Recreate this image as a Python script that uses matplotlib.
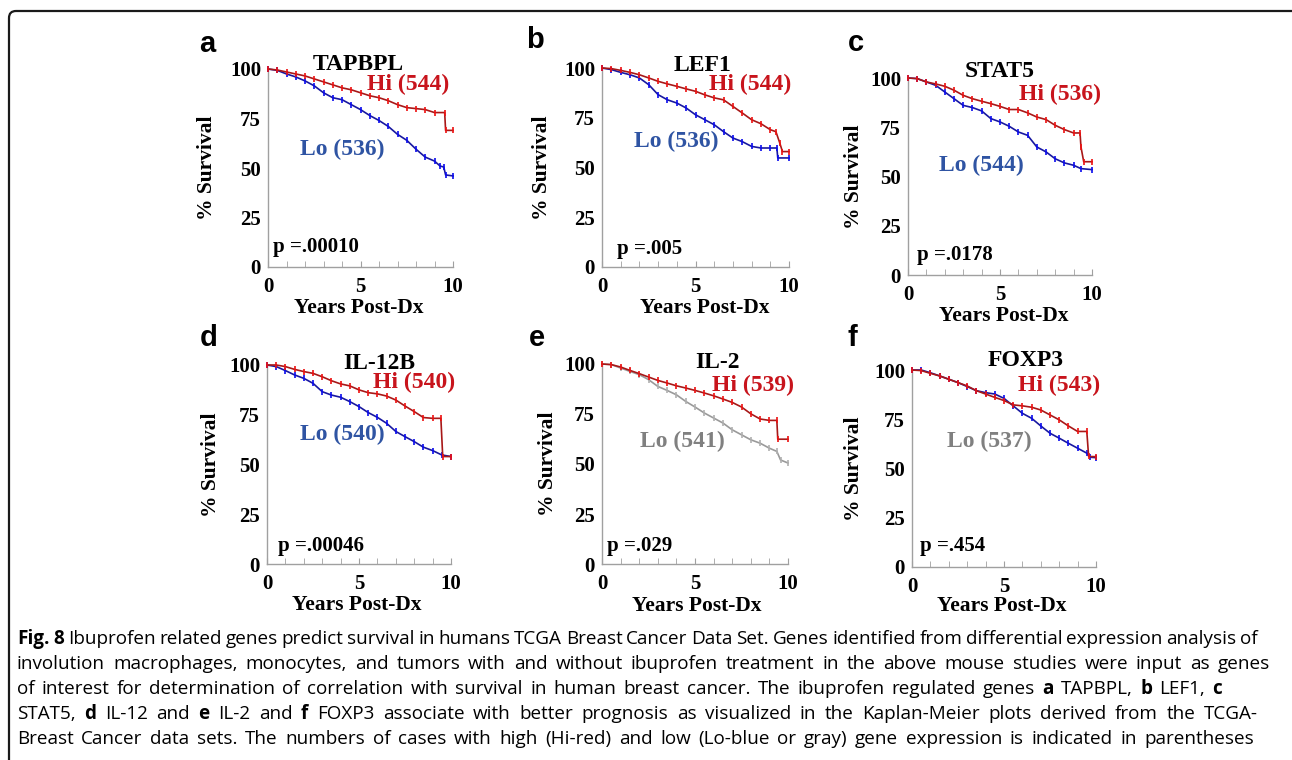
import matplotlib
matplotlib.use("Agg")
import matplotlib.pyplot as plt
from matplotlib.patches import FancyBboxPatch

# ---- survival data (years, % survival) ----
a_hi_t = [0, 0.5, 1.0, 1.5, 2.0, 2.5, 3.0, 3.5, 4.0, 4.5, 5.0, 5.5, 6.0, 6.5, 7.0, 7.5, 8.0, 8.5, 9.0, 9.55, 9.6, 10]
a_hi_s = [100, 99.5, 98.5, 97.5, 96.5, 95, 93.5, 92, 90.5, 89.5, 88, 86.5, 85.5, 84, 82, 80.5, 80, 79.5, 78, 78, 69, 69]
a_lo_t = [0, 0.5, 1.0, 1.5, 2.0, 2.5, 3.0, 3.5, 4.0, 4.5, 5.0, 5.5, 6.0, 6.5, 7.0, 7.5, 8.0, 8.5, 9.0, 9.3, 9.5, 9.6, 10]
a_lo_s = [100, 99.3, 97.5, 96, 94, 91.5, 88, 85.5, 84.5, 82, 79.5, 76.5, 74, 71, 67, 64, 59.5, 55.5, 53.5, 51, 50.5, 46.5, 46]

b_hi_t = [0, 0.5, 1, 1.5, 2, 2.5, 3, 3.5, 4, 4.5, 5, 5.5, 6, 6.5, 7, 7.5, 8, 8.5, 9, 9.3, 9.5, 9.65, 10]
b_hi_s = [100, 99.7, 98.8, 97.8, 96.6, 95, 93.3, 92, 90.8, 89.5, 88.3, 86.5, 85, 84, 80.7, 77.4, 74, 72, 69, 68, 62.5, 58, 58]
b_lo_t = [0, 0.5, 1, 1.5, 2, 2.5, 3, 3.5, 4, 4.5, 5, 5.5, 6, 6.5, 7, 7.5, 8, 8.5, 9, 9.35, 9.4, 10]
b_lo_s = [100, 99.2, 97.8, 96.6, 95, 91.6, 86.6, 84, 82.4, 79.9, 76.5, 74, 71.5, 68, 64.8, 63, 60.6, 59.8, 59.8, 59.8, 54.8, 54.8]

c_hi_t = [0, 0.5, 1, 1.5, 2, 2.5, 3, 3.5, 4, 4.5, 5, 5.5, 6, 6.5, 7, 7.5, 8, 8.5, 9, 9.35, 9.4, 9.55, 10]
c_hi_s = [100, 99.7, 98, 97, 95.8, 93.8, 91.2, 89.5, 88.2, 87, 85.6, 84, 84, 82.3, 80.2, 78.9, 76, 73.8, 72.1, 72.1, 65, 57.5, 57.5]
c_lo_t = [0, 0.5, 1, 1.5, 2, 2.5, 3, 3.5, 4, 4.5, 5, 5.5, 6, 6.5, 7, 7.5, 8, 8.5, 9, 9.4, 10]
c_lo_s = [100, 99.7, 98, 96.3, 92.9, 89.5, 86.1, 85, 83.3, 79.4, 77.7, 75.5, 72.6, 70.9, 65, 62.5, 59, 56.9, 55.7, 54, 53.5]

d_hi_t = [0, 0.5, 1, 1.5, 2, 2.5, 3, 3.5, 4, 4.5, 5, 5.5, 6, 6.5, 7, 7.5, 8, 8.5, 9, 9.45, 9.55, 10]
d_hi_s = [100, 100, 99.2, 97.8, 96.7, 95.8, 94.1, 92.1, 90.5, 89.5, 87.5, 86.1, 85.5, 84.4, 82.4, 79.4, 76.6, 73.6, 73.2, 73.2, 54, 54]
d_lo_t = [0, 0.5, 1, 1.5, 2, 2.5, 3, 3.5, 4, 4.5, 5, 5.5, 6, 6.5, 7, 7.5, 8, 8.5, 9, 9.5, 10]
d_lo_s = [100, 99.2, 97.2, 95, 93.3, 90.8, 86.6, 84.9, 83.8, 81.6, 79.1, 76.1, 73.7, 70.7, 66.6, 64, 61.5, 58.7, 57, 54.8, 54]

e_hi_t = [0, 0.5, 1, 1.5, 2, 2.5, 3, 3.5, 4, 4.5, 5, 5.5, 6, 6.5, 7, 7.5, 8, 8.5, 9, 9.4, 9.45, 10]
e_hi_s = [100, 99.7, 98.5, 96.8, 95.2, 93.5, 91.8, 90.5, 89.1, 88, 86.8, 85.5, 84.1, 82.5, 80.8, 78.5, 75.1, 72.5, 71.8, 71.8, 62.4, 62.4]
e_lo_t = [0, 0.5, 1, 1.5, 2, 2.5, 3, 3.5, 4, 4.5, 5, 5.5, 6, 6.5, 7, 7.5, 8, 8.5, 9, 9.4, 9.6, 10]
e_lo_s = [100, 99.7, 98, 96.3, 94.7, 92.2, 88.8, 86.8, 84.6, 81.3, 78.5, 75.5, 73, 70.5, 67.1, 64.6, 62.1, 60.4, 57.9, 56.3, 52, 50.5]

f_hi_t = [0, 0.5, 1, 1.5, 2, 2.5, 3, 3.5, 4, 4.5, 5, 5.5, 6, 6.5, 7, 7.5, 8, 8.5, 9, 9.5, 9.6, 10]
f_hi_s = [100, 99.7, 98.3, 97, 95.3, 93.6, 91.9, 89.5, 87.8, 86.1, 84.5, 82.3, 81.8, 81.1, 79.7, 77.2, 74.7, 71.6, 68.8, 68.8, 56.1, 56]
f_lo_t = [0, 0.5, 1, 1.5, 2, 2.5, 3, 3.5, 4, 4.5, 5, 5.5, 6, 6.5, 7, 7.5, 8, 8.5, 9, 9.5, 9.7, 10]
f_lo_s = [100, 100, 98.6, 97, 95.3, 93.6, 91.6, 89.5, 88.5, 87.8, 85.6, 81.8, 78, 75.5, 71.6, 67.9, 65.4, 62.8, 60.3, 57.8, 55.7, 55.5]

letters = ["a", "b", "c", "d", "e", "f"]
genes = ["TAPBPL", "LEF1", "STAT5", "IL-12B", "IL-2", "FOXP3"]
n_hi = [544, 544, 536, 540, 539, 543]
n_lo = [536, 536, 544, 540, 541, 537]
pvals = ["p =.00010", "p =.005", "p =.0178", "p =.00046", "p =.029", "p =.454"]

hi_t = [a_hi_t, b_hi_t, c_hi_t, d_hi_t, e_hi_t, f_hi_t]
hi_s = [a_hi_s, b_hi_s, c_hi_s, d_hi_s, e_hi_s, f_hi_s]
lo_t = [a_lo_t, b_lo_t, c_lo_t, d_lo_t, e_lo_t, f_lo_t]
lo_s = [a_lo_s, b_lo_s, c_lo_s, d_lo_s, e_lo_s, f_lo_s]

# ---- layout (pixels): x at 0 yr, x at 10 yr, y at 100 %, y at 0 %
W, H = 1292, 760
boxes = [(268, 453, 69, 267), (602, 789, 68, 267), (908, 1092, 78, 275),
         (267, 451, 365, 564), (602, 788, 364, 564), (912, 1096, 370, 567)]
letter_pos = [(207, 44), (535, 40), (856, 43), (209, 338), (537, 338), (852, 338)]
# label positions in data coordinates: title, Hi, Lo, p-value
title_xy = [(4.9, 102.5), (5.4, 101.5), (5.0, 103.5), (6.1, 101), (6.2, 100.5), (6.2, 105)]
hi_xy = [(7.55, 92), (7.9, 91.5), (8.25, 91.4), (8.0, 91), (8.1, 89.5), (8.0, 92.4)]
lo_xy = [(4.0, 59.6), (3.95, 63.3), (4.0, 55.8), (4.1, 65.3), (4.3, 61.5), (4.2, 63.6)]
p_xy = [(0.27, 10), (0.8, 9), (0.5, 10), (0.6, 9), (0.27, 9), (0.45, 10.5)]
ylab_off = [61, 60, 54, 56, 54, 58]
xlab_pos = [(0.49, 41), (0.55, 41), (0.52, 41), (0.49, 41), (0.51, 42), (0.49, 39)]
lo_gray_curve = [False, False, False, False, True, False]
lo_gray_label = [False, False, False, False, True, True]

serif = ["Liberation Serif", "DejaVu Serif"]
plt.rcParams["font.family"] = serif
plt.rcParams["font.weight"] = "bold"

RED_LINE, RED_MARK, RED_TXT = "#a81818", "#ee1111", "#c8141c"
BLUE_LINE, BLUE_MARK, BLUE_TXT = "#1818a0", "#0a0aee", "#2f54a3"
GRAY_LINE, GRAY_MARK, GRAY_TXT = "#9a9a9a", "#b0b0b0", "#808080"
AXC = "#a0a0a0"

fig = plt.figure(figsize=(W / 100, H / 100), dpi=100)

for i in range(6):
    x0, x10, y100, y0 = boxes[i]
    ax = fig.add_axes([x0 / W, 1 - y0 / H, (x10 - x0) / W, (y0 - y100) / H])

    if lo_gray_curve[i]:
        lc, mc = GRAY_LINE, GRAY_MARK
    else:
        lc, mc = BLUE_LINE, BLUE_MARK
    ax.plot(lo_t[i], lo_s[i], color=lc, lw=1.2, clip_on=False, zorder=3)
    ax.plot(lo_t[i], lo_s[i], ls="none", marker="|", ms=4, mew=1.2, color=mc, clip_on=False, zorder=3)
    ax.plot(hi_t[i], hi_s[i], color=RED_LINE, lw=1.2, clip_on=False, zorder=4)
    ax.plot(hi_t[i], hi_s[i], ls="none", marker="|", ms=4, mew=1.2, color=RED_MARK, clip_on=False, zorder=4)

    ax.set_xlim(0, 10)
    ax.set_ylim(0, 100)
    for s in ["top", "right"]:
        ax.spines[s].set_visible(False)
    for s in ["left", "bottom"]:
        ax.spines[s].set_color(AXC)
        ax.spines[s].set_linewidth(1.0)
    ax.set_xticks([0, 5, 10])
    ax.set_xticks(range(11), minor=True)
    ax.tick_params(axis="x", which="both", direction="in", length=4, color=AXC, pad=7, labelsize=15)
    ax.set_yticks([0, 25, 50, 75, 100])
    ax.tick_params(axis="y", length=0, pad=5, labelsize=15)

    ax.set_ylabel("% Survival", fontsize=15.5, fontweight="bold")
    ax.yaxis.set_label_coords(-ylab_off[i] / (x10 - x0), 0.5)
    ax.set_xlabel("Years Post-Dx", fontsize=15.5, fontweight="bold")
    ax.xaxis.set_label_coords(xlab_pos[i][0], -xlab_pos[i][1] / (y0 - y100))
    ax.xaxis.label.set_va("center")
    ax.yaxis.label.set_va("center")

    ax.text(*title_xy[i], genes[i], fontsize=17, ha="center", va="center")
    ax.text(*hi_xy[i], "Hi (%d)" % n_hi[i], fontsize=17, ha="center", va="center", color=RED_TXT)
    ax.text(*lo_xy[i], "Lo (%d)" % n_lo[i], fontsize=17, ha="center", va="center",
            color=GRAY_TXT if lo_gray_label[i] else BLUE_TXT)
    ax.text(*p_xy[i], pvals[i], fontsize=15, ha="left", va="center")

    lx, ly = letter_pos[i]
    fig.text(lx / W, 1 - ly / H, letters[i], fontsize=21, fontweight="bold",
             family=["Liberation Sans", "DejaVu Sans"], ha="center", va="center")

# rounded frame around the figure (open at right/bottom edge)
frame = FancyBboxPatch((0.09, -0.5), 13.0, 7.49 + 0.5, boxstyle="round,pad=0,rounding_size=0.07",
                       transform=fig.dpi_scale_trans, fill=False, ec="#1a1a1a", lw=1.6)
fig.patches.append(frame)

# ---- caption, justified line by line ----
caption = [
    [("Fig. 8", True), ("Ibuprofen related genes predict survival in humans TCGA Breast Cancer Data Set. "
                         "Genes identified from differential expression analysis of", False)],
    [("involution macrophages, monocytes, and tumors with and without ibuprofen treatment in the above "
      "mouse studies were input as genes", False)],
    [("of interest for determination of correlation with survival in human breast cancer. The ibuprofen "
      "regulated genes", False), ("a", True), ("TAPBPL,", False), ("b", True), ("LEF1,", False), ("c", True)],
    [("STAT5,", False), ("d", True), ("IL-12 and", False), ("e", True), ("IL-2 and", False), ("f", True),
     ("FOXP3 associate with better prognosis as visualized in the Kaplan-Meier plots derived from the TCGA-", False)],
    [("Breast Cancer data sets. The numbers of cases with high (Hi-red) and low (Lo-blue or gray) gene "
      "expression is indicated in parentheses", False)],
]
cap_left = 17
cap_right = [1258, 1270, 1222, 1258, 1254]
cap_base = [644, 669, 694, 719, 744]
sans = ["Open Sans", "DejaVu Sans"]

fig.canvas.draw()
renderer = fig.canvas.get_renderer()
for li, segs in enumerate(caption):
    words = []
    for txt, bold in segs:
        for w in txt.split():
            t = fig.text(0, 1 - cap_base[li] / H, w, fontsize=13.6, family=sans,
                         fontweight="bold" if bold else "normal", ha="left", va="baseline")
            words.append(t)
    widths = [t.get_window_extent(renderer).width for t in words]
    gap = (cap_right[li] - cap_left - sum(widths)) / (len(words) - 1)
    x = cap_left
    for t, w in zip(words, widths):
        t.set_x(x / W)
        x += w + gap

fig.savefig("out.png", dpi=100)
